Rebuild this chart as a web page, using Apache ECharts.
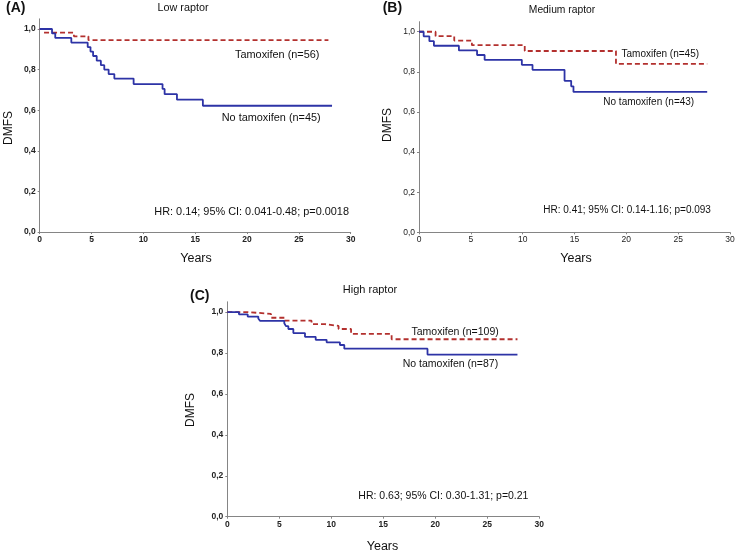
<!DOCTYPE html>
<html>
<head>
<meta charset="utf-8">
<script src="https://cdn.jsdelivr.net/npm/echarts@6/dist/echarts.min.js"></script>
<style>
html,body{margin:0;padding:0;background:#fff;}
#chart{width:738px;height:556px;}
</style>
</head>
<body>
<div id="chart"></div>
<script>
// ---- Data ----
const panelLetters = ['(A)', '(B)', '(C)'];
const panelTitles = ['Low raptor', 'Medium raptor', 'High raptor'];
const xTicks = [0, 5, 10, 15, 20, 25, 30];
const yTicks = [0, 0.2, 0.4, 0.6, 0.8, 1.0];
const yTickLabels = ['0,0', '0,2', '0,4', '0,6', '0,8', '1,0'];

// Panel A - Low raptor
const aNoTamTimes = [0, 1.19, 1.5, 3.05, 4.63, 4.9, 5.15, 5.5, 5.9, 6.23, 6.65, 7.2, 9.06, 11.85, 12.05, 13.24, 15.74, 28.2];
const aNoTamSurv  = [1.0, 0.978, 0.956, 0.933, 0.911, 0.889, 0.867, 0.844, 0.822, 0.800, 0.778, 0.756, 0.729, 0.705, 0.679, 0.652, 0.622, 0.622];
const aTamTimes = [0, 0.4, 3.3, 4.7, 27.85];
const aTamSurv  = [1.0, 0.982, 0.964, 0.945, 0.945];

// Panel B - Medium raptor
const bNoTamTimes = [0, 0.45, 1.0, 1.44, 3.85, 5.6, 6.33, 9.92, 10.95, 14.04, 14.68, 14.9, 27.8];
const bNoTamSurv  = [1.0, 0.977, 0.953, 0.930, 0.907, 0.884, 0.860, 0.835, 0.810, 0.755, 0.728, 0.700, 0.700];
const bTamTimes = [0, 1.6, 3.4, 5.1, 10.2, 19.0, 27.8];
const bTamSurv  = [1.0, 0.978, 0.956, 0.933, 0.904, 0.840, 0.840];

// Panel C - High raptor
const cNoTamTimes = [0, 1.12, 1.96, 2.98, 3.14, 5.48, 5.64, 5.87, 6.35, 7.47, 8.5, 9.55, 10.83, 11.25, 19.25, 27.9];
const cNoTamSurv  = [1.0, 0.989, 0.978, 0.968, 0.957, 0.945, 0.931, 0.917, 0.897, 0.879, 0.864, 0.852, 0.839, 0.821, 0.792, 0.792];
const cTamTimes = [0, 1.9, 4.2, 5.5, 8.1, 9.4, 10.7, 11.9, 15.8, 27.9];
const cTamSurv  = [1.0, 0.991, 0.972, 0.958, 0.941, 0.932, 0.917, 0.893, 0.867, 0.867];

const tamLabels = ['Tamoxifen (n=56)', 'Tamoxifen (n=45)', 'Tamoxifen (n=109)'];
const noTamLabels = ['No tamoxifen (n=45)', 'No tamoxifen (n=43)', 'No tamoxifen (n=87)'];
const hrTexts = [
  'HR: 0.14; 95% CI: 0.041-0.48; p=0.0018',
  'HR: 0.41; 95% CI: 0.14-1.16; p=0.093',
  'HR: 0.63; 95% CI: 0.30-1.31; p=0.21'
];
const yAxisName = 'DMFS';
const xAxisName = 'Years';

// ---- Layout / style ----
const FONT = '"Liberation Sans", Arial, sans-serif';
const BLUE = '#2d33a6';
const RED = '#b3302e';
const AXIS = '#858585';

const grids = [
  {left: 39.7, top: 18.85, width: 311, height: 213.2},
  {left: 419, top: 21.7, width: 311, height: 210.6},
  {left: 227.3, top: 301.8, width: 312, height: 214.9}
];
const tickBold = ['bold', 'normal', 'bold'];
const annoSize = [10.9, 10, 10.5];
const titleSize = [10.8, 10.3, 11];

function pairs(ts, vs) { return ts.map((t, i) => [t, vs[i]]); }

const noTam = [pairs(aNoTamTimes, aNoTamSurv), pairs(bNoTamTimes, bNoTamSurv), pairs(cNoTamTimes, cNoTamSurv)];
const tam = [pairs(aTamTimes, aTamSurv), pairs(bTamTimes, bTamSurv), pairs(cTamTimes, cTamSurv)];

const xAxes = grids.map((g, i) => ({
  type: 'value', gridIndex: i, min: 0, max: 30, interval: 5,
  axisLine: {lineStyle: {color: AXIS, width: 1}},
  axisTick: {show: true, length: 2, lineStyle: {color: AXIS}},
  axisLabel: {fontFamily: FONT, fontSize: 8.5, color: '#222', margin: 3, fontWeight: tickBold[i],
    customValues: xTicks},
  splitLine: {show: false}
}));
const yAxes = grids.map((g, i) => ({
  type: 'value', gridIndex: i, min: 0, max: 1.05,
  axisLine: {show: true, lineStyle: {color: AXIS, width: 1}},
  axisTick: {show: true, length: 2, lineStyle: {color: AXIS}, customValues: yTicks},
  axisLabel: {fontFamily: FONT, fontSize: 8.5, color: '#222', margin: 4, fontWeight: tickBold[i],
    customValues: yTicks,
    formatter: v => { const k = yTicks.findIndex(t => Math.abs(t - v) < 1e-6); return k >= 0 ? yTickLabels[k] : ''; }},
  splitLine: {show: false}
}));

const series = [];
for (let i = 0; i < 3; i++) {
  series.push({
    type: 'line', xAxisIndex: i, yAxisIndex: i, data: noTam[i], step: 'end',
    showSymbol: false, symbol: 'none', lineStyle: {color: BLUE, width: 1.8}, z: 3, animation: false
  });
  series.push({
    type: 'line', xAxisIndex: i, yAxisIndex: i, data: tam[i], step: 'end',
    showSymbol: false, symbol: 'none', lineStyle: {color: RED, width: 1.8, type: [5, 3]}, z: 2, animation: false
  });
}

// text positions
const letterPos = [[6, 8.5], [382.7, 8.5], [190, 296.5]];
const titlePos = [[183, 8.5], [562, 10.5], [370, 290]];
const dmfsPos = [[8.5, 128], [388, 125], [190.5, 410]];
const yearsPos = [[196, 258.5], [576, 258.5], [382.5, 547]];
const tamPos = [[235, 54.5], [621.5, 54.5], [411.5, 332.5]];
const noTamPos = [[221.7, 117.7], [603.3, 102.7], [402.7, 364]];
const hrPos = [[154.3, 211.7], [543.3, 210], [358.3, 496]];

const graphic = [];
function txt(text, x, y, opts) {
  graphic.push(Object.assign({
    type: 'text', x: x, y: y,
    style: Object.assign({text: text, fill: '#111', font: '11px ' + FONT, textVerticalAlign: 'middle', textAlign: 'left'}, opts.style || {})
  }, opts.el || {}));
}
for (let i = 0; i < 3; i++) {
  const af = annoSize[i] + 'px ' + FONT;
  txt(panelLetters[i], letterPos[i][0], letterPos[i][1], {style: {font: 'bold 14px ' + FONT}});
  txt(panelTitles[i], titlePos[i][0], titlePos[i][1], {style: {textAlign: 'center', font: titleSize[i] + 'px ' + FONT}});
  txt(yAxisName, dmfsPos[i][0], dmfsPos[i][1], {style: {textAlign: 'center', font: '12px ' + FONT}, el: {rotation: Math.PI / 2}});
  txt(xAxisName, yearsPos[i][0], yearsPos[i][1], {style: {textAlign: 'center', font: '12.5px ' + FONT}});
  txt(tamLabels[i], tamPos[i][0], tamPos[i][1], {style: {font: af}});
  txt(noTamLabels[i], noTamPos[i][0], noTamPos[i][1], {style: {font: af}});
  txt(hrTexts[i], hrPos[i][0], hrPos[i][1], {style: {font: af}});
}

const chart = echarts.init(document.getElementById('chart'), null, {renderer: 'canvas'});
chart.setOption({
  backgroundColor: '#ffffff',
  animation: false,
  grid: grids.map(g => Object.assign({containLabel: false}, g)),
  xAxis: xAxes,
  yAxis: yAxes,
  series: series,
  graphic: graphic
});
</script>
</body>
</html>
